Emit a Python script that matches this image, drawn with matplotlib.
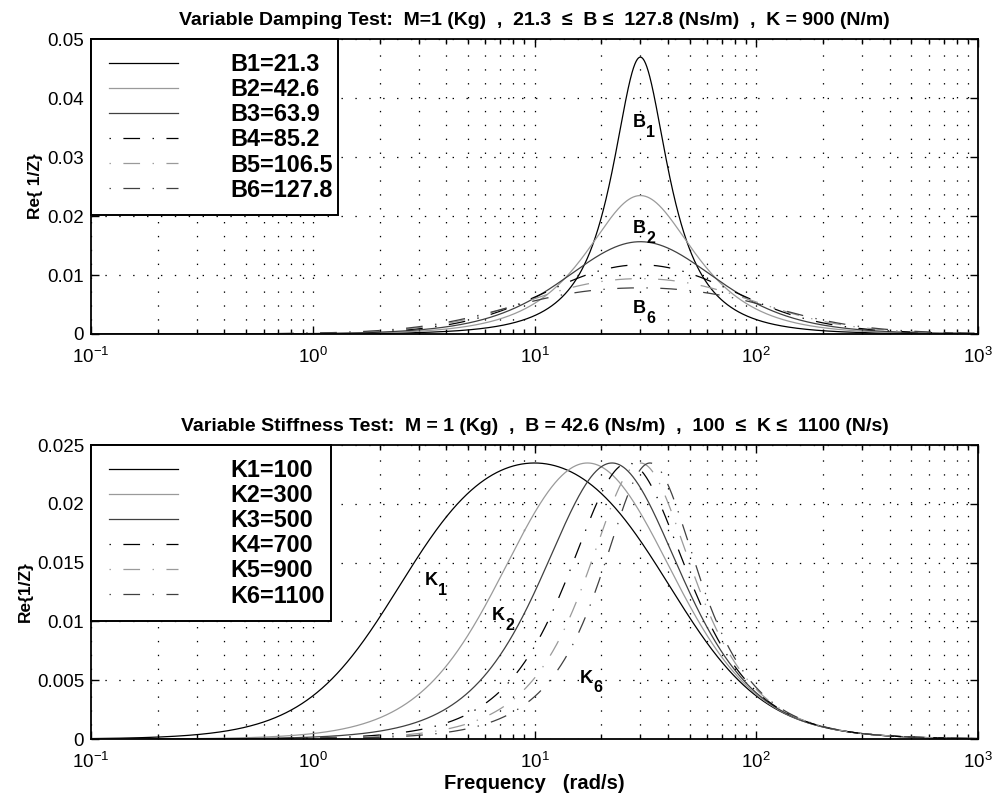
"""Real part of the admittance 1/Z for a mass-spring-damper,
Z(jw) = B + j(M w - K / w), swept over damping and over stiffness."""
import numpy as np
import matplotlib
matplotlib.use("Agg")
import matplotlib.pyplot as plt
from matplotlib.ticker import LogLocator, FuncFormatter, NullFormatter
from matplotlib.legend_handler import HandlerLine2D
from matplotlib.lines import Line2D
from matplotlib.patches import Rectangle

plt.rcParams["font.family"] = ["Liberation Sans", "DejaVu Sans"]
plt.rcParams["mathtext.fontset"] = "custom"
plt.rcParams["mathtext.rm"] = "Liberation Sans"
plt.rcParams["mathtext.default"] = "regular"
plt.rcParams["lines.scale_dashes"] = False

# test parameters
M = 1.0
damping_B = [21.3, 42.6, 63.9, 85.2, 106.5, 127.8]
damping_K = 900.0
stiffness_K = [100, 300, 500, 700, 900, 1100]
stiffness_B = 42.6

damping_labels = ["B1=21.3", "B2=42.6", "B3=63.9", "B4=85.2", "B5=106.5", "B6=127.8"]
stiffness_labels = ["K1=100", "K2=300", "K3=500", "K4=700", "K5=900", "K6=1100"]

# curve annotations: (letter, subscript, freq, value)
damping_notes = [("B", "1", 27.8, 0.0351), ("B", "2", 27.8, 0.0171), ("B", "6", 27.8, 0.00356)]
stiffness_notes = [("K", "1", 3.21, 0.0131), ("K", "2", 6.41, 0.0101), ("K", "6", 16.0, 0.0048)]

w = np.logspace(-1, 3, 3000)

SOLID = "-"
DASHDOT = (0, (1, 9, 12, 9))
styles = [("#000000", SOLID), ("#9a9a9a", SOLID), ("#404040", SOLID),
          ("#000000", DASHDOT), ("#9a9a9a", DASHDOT), ("#404040", DASHDOT)]

FIG_W, FIG_H = 994, 799
LEG_FS = 16.8
TICK_FS = 13.5


def re_admittance(m, b, k):
    z = b + 1j * (m * w - k / w)
    return np.real(1.0 / z)


def style_axes(ax, ymax, ystep):
    ax.set_xscale("log")
    ax.set_xlim(0.1, 1000)
    ax.set_ylim(0, ymax)
    ax.set_yticks(np.arange(0, ymax + ystep / 2, ystep))
    ax.yaxis.set_major_formatter(FuncFormatter(lambda v, _: f"{v:g}"))
    ax.xaxis.set_major_locator(LogLocator(base=10, numticks=10))
    ax.xaxis.set_minor_locator(LogLocator(base=10, subs=np.arange(2, 10), numticks=10))
    ax.xaxis.set_minor_formatter(NullFormatter())
    ax.tick_params(which="both", direction="in", top=True, right=True,
                   labelsize=TICK_FS, width=1.0)
    ax.tick_params(which="major", length=6)
    ax.tick_params(which="minor", length=3.5)
    ax.tick_params(axis="y", pad=5)
    ax.tick_params(axis="x", pad=9)
    ax.grid(True, which="major", axis="both", color="black",
            linestyle=(0, (1, 9)), linewidth=0.9)
    ax.grid(True, which="minor", axis="x", color="black",
            linestyle=(0, (1, 9)), linewidth=0.9)
    for s in ax.spines.values():
        s.set_linewidth(1.3)


def add_legend(ax, box_w, box_h):
    # white box with a black border in the upper-left corner, entries on top
    pos = ax.get_position()
    ax.add_patch(Rectangle((pos.x0, pos.y1 - box_h / FIG_H), box_w / FIG_W, box_h / FIG_H,
                           transform=ax.figure.transFigure, facecolor="white",
                           edgecolor="black", linewidth=1.4, zorder=4.9, clip_on=False))
    fs_px = LEG_FS * 100 / 72
    ax.legend(loc="upper left", borderaxespad=0, frameon=False,
              prop={"weight": "bold", "size": LEG_FS},
              handlelength=73 / fs_px, handletextpad=52 / fs_px,
              borderpad=14 / fs_px, labelspacing=0.09,
              handler_map={Line2D: HandlerLine2D(xpad=4 / fs_px)})


def annotate(ax, notes):
    for letter, sub, x, y in notes:
        ax.text(x, y, letter, fontsize=13, fontweight="bold", ha="left", va="baseline")
        ax.annotate(sub, xy=(x, y), xytext=(9.6, -7), textcoords="offset points",
                    fontsize=11.5, fontweight="bold", ha="left", va="baseline")


fig = plt.figure(figsize=(FIG_W / 100, FIG_H / 100), dpi=100)
ax1 = fig.add_axes([0.0915, 0.582, 0.8925, 0.369])
ax2 = fig.add_axes([0.0915, 0.075, 0.8925, 0.368])

for b, lab, (c, ls) in zip(damping_B, damping_labels, styles):
    ax1.plot(w, re_admittance(M, b, damping_K), color=c, linestyle=ls,
             linewidth=0.9, label=lab)
style_axes(ax1, 0.05, 0.01)
add_legend(ax1, 247, 176)
annotate(ax1, damping_notes)
ax1.set_ylabel("Re{ 1/Z}", fontsize=12.5, fontweight="bold", labelpad=3)
ax1.set_title("Variable Damping Test:  M=1 (Kg)  ,  21.3  \u2264  B \u2264  127.8 (Ns/m)  ,  K = 900 (N/m)",
              fontsize=14, fontweight="bold", pad=10)

for k, lab, (c, ls) in zip(stiffness_K, stiffness_labels, styles):
    ax2.plot(w, re_admittance(M, stiffness_B, k), color=c, linestyle=ls,
             linewidth=0.9, label=lab)
style_axes(ax2, 0.025, 0.005)
add_legend(ax2, 240, 176)
annotate(ax2, stiffness_notes)
ax2.set_ylabel("Re{1/Z}", fontsize=12.5, fontweight="bold", labelpad=3)
ax2.set_xlabel("Frequency   (rad/s)", fontsize=14.5, fontweight="bold", labelpad=2)
ax2.set_title("Variable Stiffness Test:  M = 1 (Kg)  ,  B = 42.6 (Ns/m)  ,  100  \u2264  K \u2264  1100 (N/s)",
              fontsize=14, fontweight="bold", pad=10)

fig.savefig("out.png", dpi=100, facecolor="white")
